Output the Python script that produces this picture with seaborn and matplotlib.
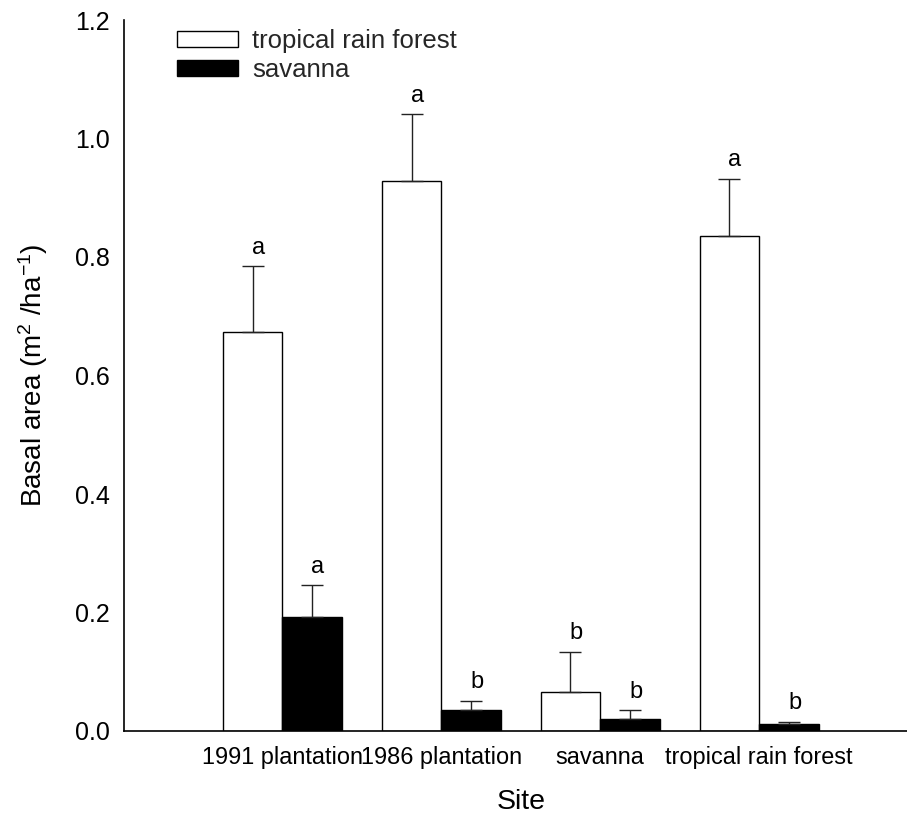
import matplotlib
matplotlib.use("Agg")
import matplotlib.pyplot as plt
import seaborn as sns
import pandas as pd

sites = ["1991 plantation", "1986 plantation", "savanna", "tropical rain forest"]
forest_types = ["tropical rain forest", "savanna"]
rainforest_mean = [0.674, 0.929, 0.066, 0.836]
rainforest_err = [0.110, 0.112, 0.067, 0.096]
savanna_mean = [0.193, 0.035, 0.020, 0.011]
savanna_err = [0.053, 0.016, 0.015, 0.004]
rainforest_letters = ["a", "a", "b", "a"]
savanna_letters = ["a", "b", "b", "b"]

sns.set_theme(style="white")
plt.rcParams['font.family'] = ['Liberation Sans', 'DejaVu Sans']
plt.rcParams['mathtext.fontset'] = 'custom'
plt.rcParams['mathtext.rm'] = 'Liberation Sans'
plt.rcParams['mathtext.it'] = 'Liberation Sans'

df = pd.DataFrame({
    "Site": sites * 2,
    "type": [forest_types[0]] * 4 + [forest_types[1]] * 4,
    "value": rainforest_mean + savanna_mean,
})

fig = plt.figure(figsize=(9.07, 8.14), dpi=100)
ax = fig.add_axes([123.5 / 907, 1 - 731 / 814, 1 - 123.5 / 907, (731 - 20) / 814])

sns.barplot(data=df, x="Site", y="value", hue="type", order=sites, hue_order=forest_types,
            palette=["white", "black"], edgecolor="black", linewidth=1.0, width=0.75,
            errorbar=None, ax=ax)

# error bars and letters from the bar patches
bars = [p for p in ax.patches if p.get_height() > 0][:8]
bars_sorted = sorted(bars, key=lambda p: p.get_x())
errs = []
letters = []
for i in range(4):
    errs += [rainforest_err[i], savanna_err[i]]
    letters += [rainforest_letters[i], savanna_letters[i]]
for p, e, l in zip(bars_sorted, errs, letters):
    xc = p.get_x() + p.get_width() / 2
    h = p.get_height()
    ax.errorbar([xc], [h], yerr=[[0], [e]], fmt="none", ecolor="#222222",
                elinewidth=1.0, capsize=8, capthick=1.0)
    ax.text(xc + 0.035, h + e + 0.013, l, ha="center", va="bottom", fontsize=17, color="black")

ax.set_xlim(-1.0, 3.93)
ax.set_ylim(0, 1.2)
ax.set_yticks([0.0, 0.2, 0.4, 0.6, 0.8, 1.0, 1.2])
ax.set_yticklabels(["0.0", "0.2", "0.4", "0.6", "0.8", "1.0", "1.2"])
ax.tick_params(axis="both", length=0, colors="black")
ax.tick_params(axis="y", pad=10, labelsize=18)
ax.tick_params(axis="x", pad=11, labelsize=16.9)

for s in ["top", "right"]:
    ax.spines[s].set_visible(False)
for s in ["left", "bottom"]:
    ax.spines[s].set_color("black")
    ax.spines[s].set_linewidth(1.2)

ax.set_xlabel("Site", fontsize=20.5, color="black")
ax.xaxis.set_label_coords(0.507, -0.081)
ax.set_ylabel("Basal area (m$^{2}$ /ha$^{-1}$)", fontsize=20, color="black")
ax.yaxis.set_label_coords(-0.094, 0.5)

handles, labels = ax.get_legend_handles_labels()
ax.legend(handles, labels, loc="upper left", bbox_to_anchor=(177 / 907, 1 - 29 / 814),
          bbox_transform=fig.transFigure, frameon=False, fontsize=18.5, borderpad=0,
          handlelength=2.37, handleheight=0.58, handletextpad=0.55, labelspacing=0.18,
          borderaxespad=0)

fig.savefig("out.png", dpi=100)
